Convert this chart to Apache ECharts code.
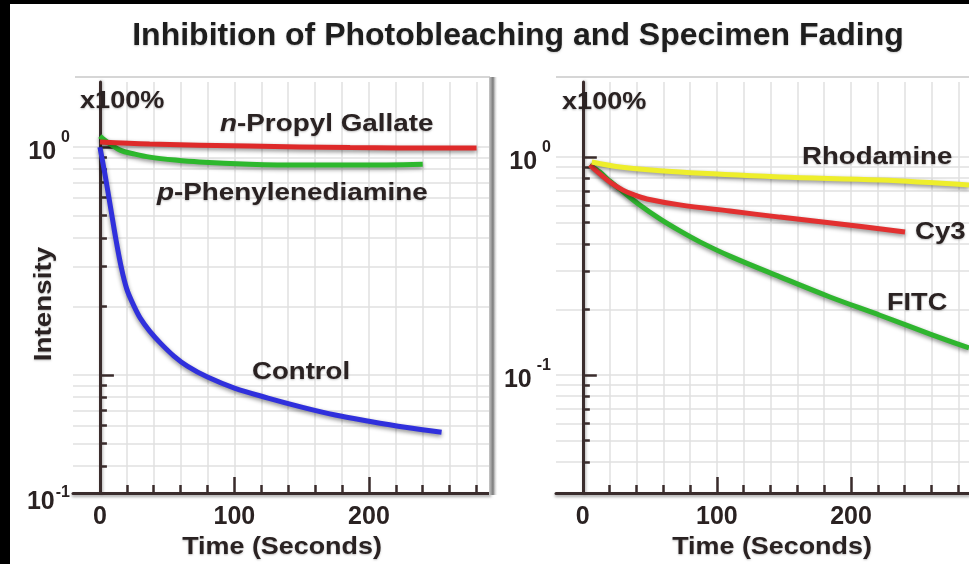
<!DOCTYPE html>
<html><head><meta charset="utf-8">
<script src="https://cdn.jsdelivr.net/npm/echarts@6/dist/echarts.min.js"></script>
<style>html,body{margin:0;padding:0;background:#fff}#c{width:969px;height:564px}</style>
</head><body><div id="c"></div>
<script>
// ---------------- data ----------------
const chartTitle = 'Inhibition of Photobleaching and Specimen Fading';
const xMajorTicks = [0, 100, 200];
const xMinorTicks = [0, 20, 40, 60, 80, 100, 120, 140, 160, 180, 200, 220, 240, 260, 280];
const yMajorTicks = [0.1, 1];
const yMinorTicks = [0.04, 0.05, 0.06, 0.07, 0.08, 0.09, 0.1, 0.2, 0.3, 0.4, 0.5, 0.6, 0.7, 0.8, 0.9, 1];
const leftYLabelValues = [0.0305, 1];
const rightYLabelValues = [0.1, 1];

// Left panel
const gallateTime = [0, 37, 111, 186, 280];
const gallateIntensity = [1.052, 1.031, 1.01, 0.995, 0.99];
const ppdTime = [0, 4.5, 15, 26, 37, 56, 74, 111, 149, 193, 240];
const ppdIntensity = [1.117, 1.062, 0.97, 0.932, 0.904, 0.877, 0.86, 0.842, 0.834, 0.834, 0.842];
const controlTime = [0, 4, 8, 12, 16, 20, 25, 30, 37, 45, 55, 65, 80, 100, 125, 150, 175, 200, 227, 254];
const controlIntensity = [1.0, 0.746, 0.54, 0.391, 0.2946, 0.2383, 0.2028, 0.1778, 0.156, 0.1381, 0.1212, 0.1095, 0.098, 0.0877, 0.0793, 0.0724, 0.0668, 0.0628, 0.0591, 0.0562];

// Right panel
const rhodamineTime = [6.7, 27.6, 72.4, 147, 221.6, 288];
const rhodamineIntensity = [0.948, 0.90, 0.853, 0.81, 0.784, 0.744];
const cy3Time = [5.2, 12.7, 20.1, 29.9, 38.8, 47.8, 72.4, 109.7, 147, 191.8, 240.3];
const cy3Intensity = [0.919, 0.836, 0.768, 0.705, 0.668, 0.642, 0.603, 0.565, 0.53, 0.493, 0.453];
const fitcTime = [5.2, 12.7, 20.1, 27.6, 42.5, 57.5, 72.4, 87.3, 109.7, 147, 184.3, 221.6, 259, 288];
const fitcIntensity = [0.919, 0.853, 0.776, 0.713, 0.602, 0.52, 0.458, 0.408, 0.351, 0.282, 0.228, 0.188, 0.154, 0.133];

// ---------------- chart ----------------
const FONT = '"Liberation Sans", Arial, sans-serif';
const AXIS = '#3a2c2c';
const TXT = '#2a2222';
const GRIDC = '#e1e1e1';
const zip = (a, b) => a.map((t, i) => [t, b[i]]);

const tokenBase = {fontWeight: 'bold', fontFamily: FONT, color: TXT};
const supRich = {
  b: Object.assign({fontSize: 25, lineHeight: 33, verticalAlign: 'bottom'}, tokenBase),
  s: Object.assign({fontSize: 16, verticalAlign: 'bottom', padding: [0, 0, 18.5, 5]}, tokenBase),
  bl: Object.assign({fontSize: 25, lineHeight: 43, verticalAlign: 'bottom'}, tokenBase),
  sl: Object.assign({fontSize: 16, verticalAlign: 'bottom', padding: [0, 0, 13.5, 1]}, tokenBase)
};

function xMajor(gi, min, max) {
  return {type: 'value', gridIndex: gi, min, max, position: 'bottom',
    axisLine: {show: true, onZero: false, lineStyle: {color: AXIS, width: 3, shadowColor: 'rgba(0,0,0,0.35)', shadowBlur: 3, shadowOffsetY: 2}},
    axisTick: {show: true, inside: true, length: 16, customValues: xMajorTicks, lineStyle: {color: AXIS, width: 2.5}},
    axisLabel: {show: true, customValues: xMajorTicks, margin: 12, fontSize: 25, fontWeight: 'bold', fontFamily: FONT, color: TXT},
    splitLine: {show: false}};
}
function xMinor(gi, min, max) {
  return {type: 'value', gridIndex: gi, min, max, position: 'bottom',
    axisLine: {show: false, onZero: false},
    axisTick: {show: true, inside: true, length: 8, customValues: xMinorTicks, lineStyle: {color: AXIS, width: 2.5}},
    axisLabel: {show: false},
    splitLine: {show: true, lineStyle: {color: GRIDC, width: 1.5}}};
}
function yMajor(gi, min, max, labelValues, fmt, margin) {
  return {type: 'log', logBase: 10, gridIndex: gi, min, max, position: 'left',
    axisLine: {show: true, lineStyle: {color: AXIS, width: 3, shadowColor: 'rgba(0,0,0,0.3)', shadowBlur: 3, shadowOffsetX: 1}},
    axisTick: {show: true, inside: true, length: 14, customValues: yMajorTicks, lineStyle: {color: AXIS, width: 2.5}},
    axisLabel: {show: true, customValues: labelValues, margin, formatter: fmt, rich: supRich, fontFamily: FONT},
    splitLine: {show: false}};
}
function yMinor(gi, min, max) {
  return {type: 'log', logBase: 10, gridIndex: gi, min, max, position: 'left',
    axisLine: {show: false},
    axisTick: {show: true, inside: true, length: 7, customValues: yMinorTicks, lineStyle: {color: AXIS, width: 2.5}},
    axisLabel: {show: false},
    splitLine: {show: true, lineStyle: {color: GRIDC, width: 1.5}}};
}

const lineShadow = {shadowColor: 'rgba(0,0,0,0.45)', shadowBlur: 4, shadowOffsetY: 2};
function mkLine(name, xi, yi, data, color) {
  return {type: 'line', name, xAxisIndex: xi, yAxisIndex: yi, data, smooth: 0.35, showSymbol: false,
    lineStyle: Object.assign({color, width: 5}, lineShadow), silent: true, z: 3};
}

const annoStyle = (text, extra) => Object.assign({text, fontSize: 24, fontWeight: 'bold', fontFamily: FONT, fill: TXT,
  align: 'left', verticalAlign: 'middle', textShadowColor: 'rgba(0,0,0,0.25)', textShadowBlur: 2, textShadowOffsetY: 1}, extra || {});
function anno(text, x, y, sx, extra, align) {
  const st = annoStyle(text, extra);
  if (align) st.align = align;
  return {type: 'text', x, y, scaleX: sx, z: 50, style: st};
}
const italicRich = {i: {fontStyle: 'italic', fontSize: 24, fontWeight: 'bold', fontFamily: FONT, fill: TXT}};

const chart = echarts.init(document.getElementById('c'), null, {renderer: 'canvas'});
chart.setOption({
  animation: false,
  backgroundColor: '#ffffff',
  grid: [
    {left: 73, top: 82, width: 417, height: 411, containLabel: false, outerBoundsMode: 'none'},
    {left: 556, top: 82, width: 413, height: 411, containLabel: false, outerBoundsMode: 'none'}
  ],
  xAxis: [xMajor(0, -20, 290), xMinor(0, -20, 290), xMajor(1, -20, 288), xMinor(1, -20, 288)],
  yAxis: [
    yMajor(0, 0.0304, 1.93, leftYLabelValues, v => v < 0.05 ? '{bl|10}{sl|-1}' : '{b|10}{s|0}', 3),
    yMinor(0, 0.0304, 1.93),
    yMajor(1, 0.02876, 2.208, rightYLabelValues, v => v < 0.5 ? '{b|10}{s|-1}' : '{b|10}{s|0}', 5),
    yMinor(1, 0.02876, 2.208)
  ],
  series: [
    mkLine('Control', 0, 0, zip(controlTime, controlIntensity), '#3030dc'),
    mkLine('p-Phenylenediamine', 0, 0, zip(ppdTime, ppdIntensity), '#2db82d'),
    mkLine('n-Propyl Gallate', 0, 0, zip(gallateTime, gallateIntensity), '#de2a2a'),
    mkLine('FITC', 2, 2, zip(fitcTime, fitcIntensity), '#2fb52f'),
    mkLine('Cy3', 2, 2, zip(cy3Time, cy3Intensity), '#e23030'),
    mkLine('Rhodamine', 2, 2, zip(rhodamineTime, rhodamineIntensity), '#eeee2c')
  ],
  graphic: [
    {type: 'rect', shape: {x: 75, y: 76, width: 415, height: 2}, style: {fill: '#d6d6d6'}, z: 1},
    {type: 'rect', shape: {x: 556, y: 76, width: 413, height: 2}, style: {fill: '#d6d6d6'}, z: 1},
    {type: 'rect', shape: {x: 489, y: 77, width: 9, height: 418}, z: 1,
      style: {fill: new echarts.graphic.LinearGradient(0, 0, 1, 0, [
        {offset: 0, color: '#c8c8c8'}, {offset: 0.45, color: '#7a7a7a'}, {offset: 1, color: 'rgba(255,255,255,0)'}])}},
    {type: 'text', x: 518, y: 36, z: 50, style: {text: chartTitle, fontSize: 32, fontWeight: 'bold', fontFamily: FONT,
      fill: '#1e1e1e', align: 'center', verticalAlign: 'middle', textShadowColor: 'rgba(0,0,0,0.2)', textShadowBlur: 2, textShadowOffsetY: 1}},
    anno('x100%', 80, 101, 1.13),
    anno('x100%', 562, 102, 1.13),
    anno('{i|n}-Propyl Gallate', 220, 124, 1.16, {rich: italicRich}),
    anno('{i|p}-Phenylenediamine', 157, 193, 1.16, {rich: italicRich}),
    anno('Control', 252, 372, 1.15),
    anno('Rhodamine', 802, 157, 1.15),
    anno('Cy3', 915, 232, 1.15),
    anno('FITC', 887, 303, 1.13),
    anno('Time (Seconds)', 282, 547, 1.12, null, 'center'),
    anno('Time (Seconds)', 772, 547, 1.12, null, 'center'),
    {type: 'text', x: 44, y: 304, rotation: Math.PI / 2, scaleX: 1.16, z: 50,
      style: annoStyle('Intensity', {align: 'center'})},
    {type: 'rect', shape: {x: 0, y: 0, width: 10, height: 564}, style: {fill: '#000'}, z: 100},
    {type: 'rect', shape: {x: 0, y: 0, width: 969, height: 4}, style: {fill: '#000'}, z: 100}
  ]
});
</script></body></html>
